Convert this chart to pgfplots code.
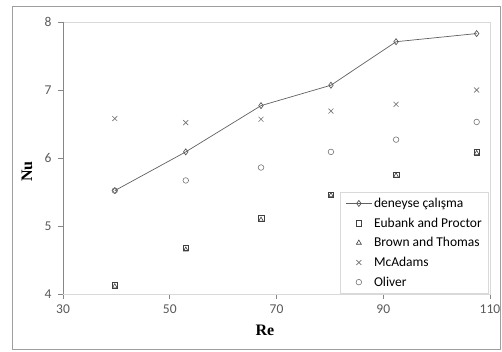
\documentclass[border=0pt]{standalone}
\usepackage{pgfplots}
\pgfplotsset{compat=1.18}
\usepackage{fontspec}
\setmainfont{Carlito}
\newfontfamily\timesfont{Liberation Serif}
\definecolor{ticktext}{HTML}{595959}
\definecolor{mk}{HTML}{404040}
\definecolor{axisline}{HTML}{868686}
\definecolor{boxline}{HTML}{D9D9D9}
\begin{document}
\begin{tikzpicture}[x=1pt,y=1pt]
\useasboundingbox (0,0) rectangle (502,352);
\draw[color=axisline!80, line width=0.8pt] (12,3) rectangle (500,346);
\begin{axis}[
  at={(63pt,58pt)}, anchor=south west,
  scale only axis, width=427pt, height=272pt,
  xmin=30, xmax=110, ymin=4, ymax=8,
  xtick={30,50,70,90,110}, ytick={4,5,6,7,8},
  tick pos=left, tick align=outside, major tick length=5pt,
  tick style={color=axisline, line width=0.6pt},
  axis line style={draw=boxline, line width=0.8pt},
  ticklabel style={font=\fontsize{13.5}{15}\selectfont, text=ticktext},
  yticklabel style={xshift=-3pt},
  xticklabel style={yshift=-2pt},
  /pgf/number format/assume math mode=true,
  xlabel={\timesfont\bfseries Re}, ylabel={\timesfont\bfseries Nu},
  label style={font=\fontsize{16}{18}\selectfont},
  xlabel style={at={(rel axis cs:0.473,0)}, anchor=center, yshift=-36pt},
  ylabel style={at={(rel axis cs:0,0.45)}, anchor=center, yshift=36pt},
  legend cell align=left,
  legend image code/.code={\draw[mark repeat=2,mark phase=2,#1] plot coordinates {(0cm,0cm) (0.45cm,0cm) (0.9cm,0cm)};},
  legend style={draw=boxline, line width=0.8pt, font=\fontsize{13.5}{15}\selectfont,
    at={(0.998,0)}, anchor=south east, row sep=4.8pt, inner xsep=5pt, inner ysep=4pt},
]
\draw[color=axisline, line width=0.8pt] (rel axis cs:0,1) -- (rel axis cs:0,0) -- (rel axis cs:1,0);
\addplot[color=gray!75!black, line width=0.7pt, mark=diamond, mark size=3pt, mark options={solid, fill=white, color=gray!70!black}]
  coordinates {(39.7,5.52) (53.0,6.09) (67.1,6.77) (80.2,7.07) (92.4,7.71) (107.5,7.83)};
\addlegendentry{deneyse çalışma}
\addplot[only marks, color=mk, mark=square, mark size=2.8pt, mark options={line width=0.6pt}]
  coordinates {(39.7,4.13) (53.0,4.68) (67.1,5.11) (80.2,5.46) (92.4,5.75) (107.5,6.08)};
\addlegendentry{Eubank and Proctor}
\addplot[only marks, color=mk, mark=triangle, mark size=2.8pt, mark options={line width=0.6pt}]
  coordinates {(39.7,4.11) (53.0,4.65) (67.1,5.09) (80.2,5.45) (92.4,5.74) (107.5,6.07)};
\addlegendentry{Brown and Thomas}
\addplot[only marks, color=gray!90!black, mark=x, mark size=3.5pt, mark options={line width=0.6pt}]
  coordinates {(39.7,6.58) (53.0,6.52) (67.1,6.57) (80.2,6.69) (92.4,6.79) (107.5,7.00)};
\addlegendentry{McAdams}
\addplot[only marks, color=gray!90!black, mark=o, mark size=2.8pt, mark options={line width=0.6pt}]
  coordinates {(39.7,5.52) (53.0,5.67) (67.1,5.86) (80.2,6.09) (92.4,6.27) (107.5,6.53)};
\addlegendentry{Oliver}
\end{axis}
\end{tikzpicture}
\end{document}
